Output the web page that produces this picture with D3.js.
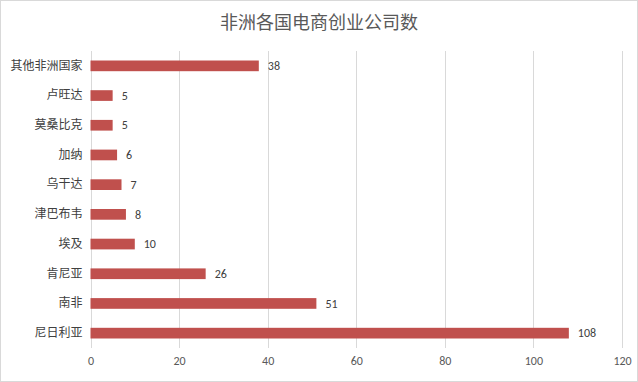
<!DOCTYPE html>
<html>
<head>
<meta charset="utf-8">
<script src="https://cdn.jsdelivr.net/npm/d3@7"></script>
<style>
  body { margin: 0; background: #fff; }
  text { font-family: "Noto Sans CJK SC", "Microsoft YaHei", sans-serif; }
</style>
</head>
<body>
<svg id="chart" width="638" height="382"></svg>
<script>
// categories from top to bottom
var countries = ["其他非洲国家", "卢旺达", "莫桑比克", "加纳", "乌干达", "津巴布韦", "埃及", "肯尼亚", "南非", "尼日利亚"];
var companies = [38, 5, 5, 6, 7, 8, 10, 26, 51, 108];
var xTicks = [0, 20, 40, 60, 80, 100, 120];

var W = 638, H = 382;
var margin = {left: 90.5, right: 16, top: 51, bottom: 34};

var svg = d3.select("#chart");

svg.append("rect")
    .attr("x", 0.5).attr("y", 0.5)
    .attr("width", W - 1).attr("height", H - 1)
    .attr("fill", "#fff")
    .attr("stroke", "#d9d9d9");

svg.append("text")
    .attr("x", W / 2)
    .attr("y", 29)
    .attr("text-anchor", "middle")
    .attr("font-size", "18px")
    .attr("fill", "#595959")
    .text("非洲各国电商创业公司数");

var x = d3.scaleLinear().domain([0, 120]).range([margin.left, W - margin.right]);
var y = d3.scaleBand().domain(countries).range([margin.top, H - margin.bottom]).paddingInner(0.64).paddingOuter(0.32);

// gridlines
svg.append("g")
    .selectAll("line")
    .data(xTicks)
    .enter().append("line")
    .attr("x1", function(d) { return Math.round(x(d)) + 0.5; })
    .attr("x2", function(d) { return Math.round(x(d)) + 0.5; })
    .attr("y1", margin.top)
    .attr("y2", H - margin.bottom)
    .attr("stroke", "#d9d9d9")
    .attr("stroke-width", 1);

var xAxis = svg.append("g")
    .attr("transform", "translate(0," + (H - margin.bottom) + ")")
    .call(d3.axisBottom(x).tickValues(xTicks).tickSize(0).tickPadding(8));
xAxis.select(".domain").remove();
xAxis.selectAll("text")
    .attr("font-size", "12px")
    .attr("fill", "#595959")
    .style("font-family", "Calibri, Carlito, 'Liberation Sans', sans-serif");

var yAxis = svg.append("g")
    .attr("transform", "translate(" + margin.left + ",0)")
    .call(d3.axisLeft(y).tickSize(0).tickPadding(8));
yAxis.select(".domain").remove();
yAxis.selectAll("text")
    .attr("font-size", "12px")
    .attr("fill", "#404040");

svg.append("g")
    .selectAll("rect")
    .data(countries)
    .enter().append("rect")
    .attr("x", x(0))
    .attr("y", function(d) { return y(d); })
    .attr("width", function(d, i) { return x(companies[i]) - x(0); })
    .attr("height", y.bandwidth())
    .attr("fill", "#c0504d");

svg.append("g")
    .selectAll("text")
    .data(countries)
    .enter().append("text")
    .attr("x", function(d, i) { return x(companies[i]) + 9; })
    .attr("y", function(d) { return y(d) + y.bandwidth() / 2; })
    .attr("dy", "0.35em")
    .attr("font-size", "12px")
    .attr("fill", "#404040")
    .style("font-family", "Calibri, Carlito, 'Liberation Sans', sans-serif")
    .text(function(d, i) { return companies[i]; });
</script>
</body>
</html>
